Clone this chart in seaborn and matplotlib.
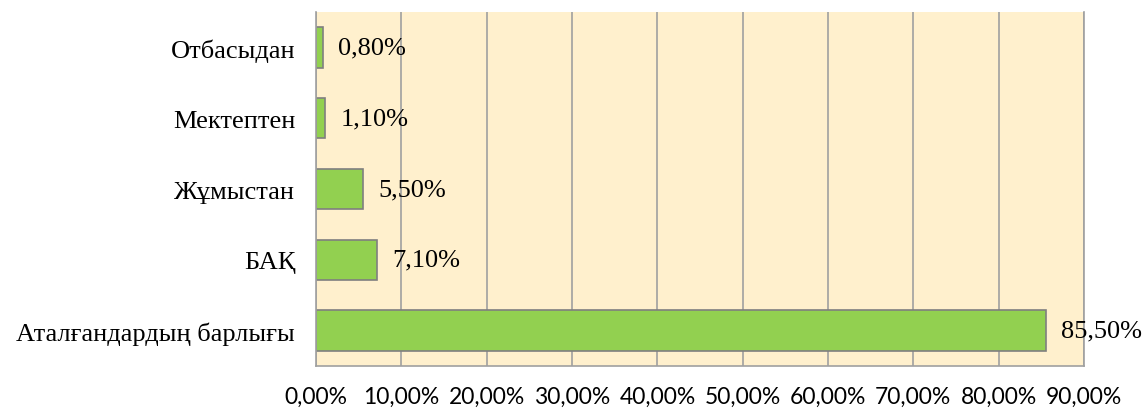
import matplotlib
matplotlib.use("Agg")
import matplotlib.pyplot as plt
import seaborn as sns
import pandas as pd
from matplotlib.ticker import FuncFormatter

# data
categories = ["Отбасыдан", "Мектептен", "Жұмыстан", "БАҚ", "Аталғандардың барлығы"]
values = [0.80, 1.10, 5.50, 7.10, 85.50]
x_ticks = [0, 10, 20, 30, 40, 50, 60, 70, 80, 90]

df = pd.DataFrame({"category": categories, "value": values})

sns.set_style("white")
plt.rcParams['font.family'] = ['Liberation Serif', 'DejaVu Serif']
plt.rcParams['text.color'] = 'black'

fig = plt.figure(figsize=(11.43, 4.14), dpi=100)
ax = fig.add_axes([0.2765, 0.1135, 0.6719, 0.8551])
ax.set_facecolor("#FFF0CD")

sns.barplot(data=df, x="value", y="category", orient="h", color="#92D050",
            edgecolor="#7F7F7F", linewidth=1.2, width=0.57, saturation=1, ax=ax)

ax.set_xlim(0, 90)
ax.set_xticks(x_ticks)
ax.xaxis.set_major_formatter(FuncFormatter(lambda v, p: f"{v:.2f}%".replace(".", ",")))
ax.grid(axis="x", color="#A0A0A0", linewidth=1.2)
ax.set_axisbelow(True)

ax.tick_params(axis="x", length=0, pad=14, labelsize=16.5, labelcolor="black")
ax.tick_params(axis="y", length=0, pad=15, labelsize=19, labelcolor="black")
for lbl in ax.get_xticklabels():
    lbl.set_fontfamily(["Lato", "DejaVu Sans"])
    lbl.set_fontsize(16.5)
ax.set_xlabel("")
ax.set_ylabel("")

for s in ax.spines.values():
    s.set_color("#A0A0A0")
    s.set_linewidth(1.2)
ax.spines["top"].set_visible(False)

for i, v in enumerate(values):
    ax.annotate(f"{v:.2f}%".replace(".", ","), xy=(v, i), xytext=(11, 0),
                textcoords="offset points", va="center", ha="left",
                fontsize=19, color="black")

fig.savefig("out.png", dpi=100)
